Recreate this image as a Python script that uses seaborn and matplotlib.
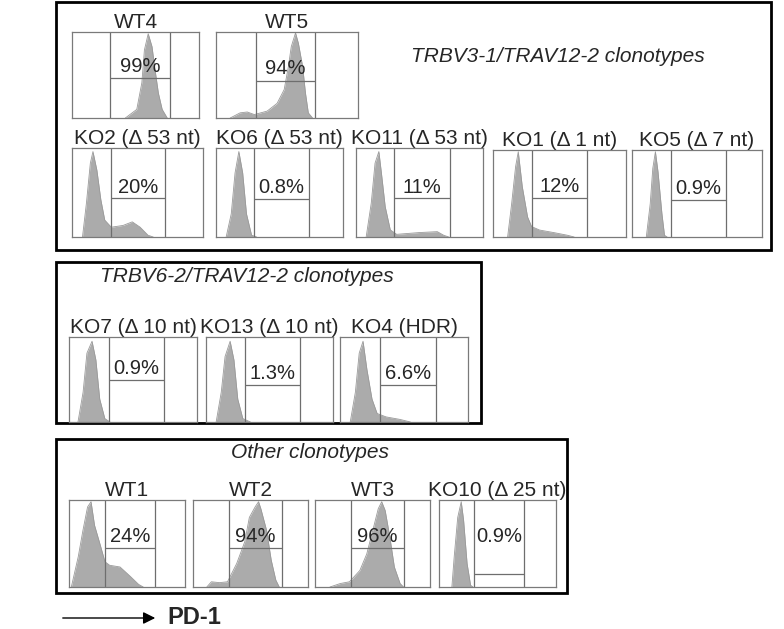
import matplotlib
matplotlib.use("Agg")
import matplotlib.pyplot as plt
import seaborn as sns
from matplotlib.patches import Rectangle, FancyArrowPatch

sns.set_style("white")
plt.rcParams['font.family'] = ['Liberation Sans', 'DejaVu Sans']

# Panel names and % PD-1+
names = ['WT4', 'WT5',
         'KO2 (\u0394 53 nt)', 'KO6 (\u0394 53 nt)', 'KO11 (\u0394 53 nt)', 'KO1 (\u0394 1 nt)', 'KO5 (\u0394 7 nt)',
         'KO7 (\u0394 10 nt)', 'KO13 (\u0394 10 nt)', 'KO4 (HDR)',
         'WT1', 'WT2', 'WT3', 'KO10 (\u0394 25 nt)']
percents = ['99%', '94%', '20%', '0.8%', '11%', '12%', '0.9%',
            '0.9%', '1.3%', '6.6%', '24%', '94%', '96%', '0.9%']

# Histogram outlines (x = fraction of PD-1 axis, y = fraction of max count), estimated by eye
wt4_x = [0.42, 0.51, 0.55, 0.57, 0.60, 0.63, 0.65, 0.68, 0.71, 0.75]
wt4_y = [0.0, 0.10, 0.41, 0.79, 0.98, 0.83, 0.60, 0.29, 0.10, 0.0]
wt5_x = [0.10, 0.17, 0.22, 0.27, 0.36, 0.43, 0.48, 0.51, 0.53, 0.56, 0.58, 0.61, 0.63, 0.65, 0.68]
wt5_y = [0.0, 0.06, 0.07, 0.04, 0.08, 0.17, 0.33, 0.60, 0.83, 0.99, 0.87, 0.60, 0.29, 0.06, 0.0]
ko2_x = [0.08, 0.11, 0.14, 0.16, 0.19, 0.22, 0.25, 0.30, 0.39, 0.46, 0.52, 0.58, 0.62]
ko2_y = [0.0, 0.38, 0.83, 0.96, 0.75, 0.42, 0.19, 0.11, 0.13, 0.17, 0.11, 0.02, 0.0]
ko6_x = [0.08, 0.12, 0.15, 0.18, 0.21, 0.24, 0.28, 0.32]
ko6_y = [0.0, 0.26, 0.72, 0.96, 0.72, 0.26, 0.02, 0.0]
ko11_x = [0.08, 0.12, 0.15, 0.18, 0.20, 0.23, 0.27, 0.32, 0.50, 0.64, 0.69, 0.73]
ko11_y = [0.0, 0.38, 0.83, 0.96, 0.72, 0.34, 0.08, 0.03, 0.05, 0.06, 0.02, 0.0]
ko1_x = [0.11, 0.14, 0.17, 0.19, 0.22, 0.26, 0.29, 0.35, 0.46, 0.56, 0.61]
ko1_y = [0.0, 0.38, 0.81, 0.98, 0.58, 0.23, 0.12, 0.08, 0.05, 0.02, 0.0]
ko5_x = [0.11, 0.14, 0.16, 0.18, 0.20, 0.23, 0.25, 0.27]
ko5_y = [0.0, 0.38, 0.79, 0.98, 0.75, 0.27, 0.02, 0.0]
ko7_x = [0.07, 0.11, 0.14, 0.18, 0.21, 0.24, 0.28, 0.32]
ko7_y = [0.0, 0.35, 0.81, 0.95, 0.73, 0.27, 0.04, 0.0]
ko13_x = [0.08, 0.12, 0.15, 0.19, 0.22, 0.25, 0.29, 0.35]
ko13_y = [0.0, 0.35, 0.77, 0.95, 0.73, 0.27, 0.04, 0.0]
ko4_x = [0.08, 0.12, 0.15, 0.18, 0.21, 0.25, 0.29, 0.36, 0.47, 0.55]
ko4_y = [0.0, 0.35, 0.81, 0.95, 0.62, 0.27, 0.10, 0.06, 0.03, 0.0]
wt1_x = [0.02, 0.08, 0.12, 0.16, 0.19, 0.22, 0.27, 0.31, 0.35, 0.44, 0.53, 0.60, 0.64]
wt1_y = [0.0, 0.35, 0.65, 0.92, 0.98, 0.71, 0.48, 0.29, 0.25, 0.23, 0.12, 0.03, 0.0]
wt2_x = [0.12, 0.16, 0.23, 0.30, 0.38, 0.45, 0.49, 0.54, 0.57, 0.59, 0.64, 0.68, 0.72, 0.75]
wt2_y = [0.0, 0.06, 0.05, 0.06, 0.27, 0.52, 0.80, 0.92, 0.98, 0.90, 0.65, 0.31, 0.08, 0.0]
wt3_x = [0.13, 0.22, 0.30, 0.39, 0.45, 0.51, 0.55, 0.58, 0.61, 0.65, 0.69, 0.74, 0.77]
wt3_y = [0.0, 0.04, 0.06, 0.19, 0.38, 0.69, 0.90, 0.98, 0.88, 0.58, 0.23, 0.04, 0.0]
ko10_x = [0.11, 0.13, 0.16, 0.19, 0.21, 0.24, 0.27, 0.29]
ko10_y = [0.0, 0.35, 0.80, 0.98, 0.77, 0.27, 0.02, 0.0]

curves_x = [wt4_x, wt5_x, ko2_x, ko6_x, ko11_x, ko1_x, ko5_x, ko7_x, ko13_x, ko4_x,
            wt1_x, wt2_x, wt3_x, ko10_x]
curves_y = [wt4_y, wt5_y, ko2_y, ko6_y, ko11_y, ko1_y, ko5_y, ko7_y, ko13_y, ko4_y,
            wt1_y, wt2_y, wt3_y, ko10_y]

# layout: panel box in pixels (x0, y0, x1, y1) and gate (left, right, height, text y)
boxes = [(72, 32, 199, 118), (216, 32, 358, 118),
         (72, 148, 203, 237), (216, 148, 343, 237), (356, 148, 483, 237),
         (493, 150, 626, 237), (632, 150, 762, 237),
         (69, 337, 197, 422), (206, 337, 333, 422), (340, 337, 468, 422),
         (69, 500, 185, 587), (193, 500, 308, 587), (315, 500, 430, 587), (439, 500, 556, 587)]
gates = [(0.30, 0.77, 0.47, 0.60), (0.28, 0.70, 0.43, 0.57),
         (0.30, 0.71, 0.44, 0.56), (0.30, 0.73, 0.43, 0.56), (0.30, 0.74, 0.44, 0.56),
         (0.29, 0.71, 0.45, 0.58), (0.30, 0.72, 0.43, 0.56),
         (0.31, 0.74, 0.50, 0.63), (0.31, 0.74, 0.44, 0.57), (0.31, 0.75, 0.44, 0.57),
         (0.31, 0.74, 0.45, 0.58), (0.31, 0.77, 0.45, 0.58), (0.31, 0.77, 0.45, 0.58),
         (0.30, 0.73, 0.15, 0.58)]

W, H = 784, 629
fig = plt.figure(figsize=(W / 100, H / 100), dpi=100)

bg = fig.add_axes([0, 0, 1, 1])
bg.set_xlim(0, W)
bg.set_ylim(H, 0)
bg.axis('off')

# group frames
for (x0, y0, x1, y1) in [(56, 2, 771, 250), (56, 262, 481, 423), (56, 439, 567, 593)]:
    bg.add_patch(Rectangle((x0, y0), x1 - x0, y1 - y0, fill=False, ec='black', lw=2.0))

bg.text(558, 56, 'TRBV3-1/TRAV12-2 clonotypes', style='italic', fontsize=15, ha='center', va='center')
bg.text(247, 277, 'TRBV6-2/TRAV12-2 clonotypes', style='italic', fontsize=15, ha='center', va='center')
bg.text(310, 452, 'Other clonotypes', style='italic', fontsize=15, ha='center', va='center')

bg.add_patch(FancyArrowPatch((60, 618), (158, 618), arrowstyle='-|>', color='black',
                             lw=1.0, mutation_scale=18))
bg.text(167, 618, 'PD-1', fontsize=17, fontweight='bold', ha='left', va='center')

for i in range(len(names)):
    x0, y0, x1, y1 = boxes[i]
    gl, gr, gh, ty = gates[i]
    ax = fig.add_axes([x0 / W, 1 - y1 / H, (x1 - x0) / W, (y1 - y0) / H])
    ax.fill_between(curves_x[i], curves_y[i], color='#ababab', lw=0)
    sns.lineplot(x=curves_x[i], y=curves_y[i], ax=ax, color='#9a9a9a', lw=0.6)
    ax.axvline(gl, color='#6e6e6e', lw=0.9)
    ax.axvline(gr, color='#6e6e6e', lw=0.9)
    ax.hlines(gh, gl, gr, color='#6e6e6e', lw=0.9)
    ax.text((gl + gr) / 2, ty, percents[i], fontsize=14.5, ha='center', va='center')
    ax.set_xlim(0, 1)
    ax.set_ylim(0, 1.0)
    ax.set_xticks([])
    ax.set_yticks([])
    for s in ax.spines.values():
        s.set_color('#7a7a7a')
        s.set_linewidth(0.9)
    bg.text((x0 + x1) / 2, y0 - 4, names[i], fontsize=15, ha='center', va='baseline')

fig.savefig('out.png', dpi=100)
